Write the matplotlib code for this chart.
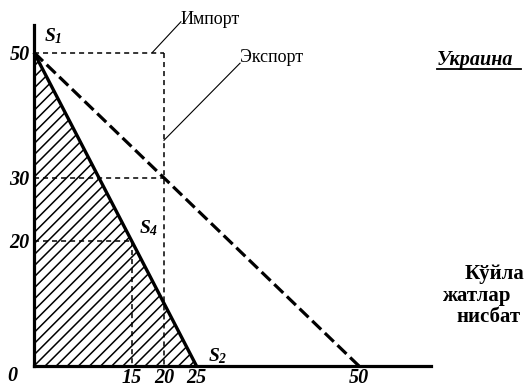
import matplotlib
matplotlib.use("Agg")
import matplotlib.pyplot as plt
from matplotlib.patches import Polygon

# ---- data ----
s1 = (0, 50)          # S1
s2 = (25, 0)          # S2
s4 = (15, 20)         # S4
export_end = (50, 0)  # export line end
import_pt = (20, 50)
export_pt = (20, 30)
yticks = [20, 30, 50]
ytick_labels = ["20", "30", "50"]
xticks = [15, 20, 25, 50]
xtick_labels = ["15", "20", "25", "50"]

plt.rcParams['mathtext.fontset'] = 'custom'
plt.rcParams['mathtext.it'] = 'Liberation Serif:bold:italic'
plt.rcParams['mathtext.rm'] = 'Liberation Serif:bold:italic'
plt.rcParams['hatch.linewidth'] = 1.1

fig = plt.figure(figsize=(5.26, 3.88), dpi=100)
ax = fig.add_axes([0, 0, 1, 1])
ax.set_xlim(-34 / 6.5, (526 - 34) / 6.5)
ax.set_ylim(-22 / 6.27, 366 / 6.27)

for side in ["top", "right"]:
    ax.spines[side].set_visible(False)
ax.spines["left"].set_position(("data", 0))
ax.spines["bottom"].set_position(("data", 0))
ax.spines["left"].set_bounds(0, 54.4)
ax.spines["bottom"].set_bounds(0, 61)
ax.spines["left"].set_linewidth(2.3)
ax.spines["bottom"].set_linewidth(2.3)
ax.patch.set_alpha(0)

tickfont = dict(family="Liberation Serif", weight="bold", style="italic", size=14.5)
ax.set_yticks(yticks)
ax.set_yticklabels(ytick_labels, fontdict=tickfont)
ax.set_xticks(xticks)
ax.set_xticklabels(xtick_labels, fontdict=tickfont)
ax.tick_params(axis="both", length=0)
ax.tick_params(axis="y", pad=3)
ax.tick_params(axis="x", pad=1.5)
ax.text(-3.4, -2.4, "0", ha="center", va="baseline", **tickfont)

# hatched triangle
tri = Polygon([(0, 0), s1, s2], closed=True, facecolor="none", edgecolor="black",
              hatch="///", linewidth=0)
ax.add_patch(tri)

# solid S1-S2
ax.plot([s1[0], s2[0]], [s1[1], s2[1]], color="black", lw=2.4, solid_capstyle="butt")
# export dashed
ax.plot([s1[0], export_end[0]], [s1[1], export_end[1]], color="black", lw=2.3,
        linestyle=(0, (3.9, 1.6)))

thin = dict(color="black", lw=1.1, linestyle=(0, (3.3, 2.6)))
ax.plot([0, import_pt[0]], [import_pt[1], import_pt[1]], **thin)
ax.plot([import_pt[0], import_pt[0]], [import_pt[1], 0], **thin)
ax.plot([0, export_pt[0]], [export_pt[1], export_pt[1]], **thin)
ax.plot([0, s4[0]], [s4[1], s4[1]], **thin)
ax.plot([s4[0], s4[0]], [s4[1], 0], **thin)

# annotation leader lines
ax.plot([18.2, 22.6], [50, 54.9], color="black", lw=0.8)
ax.plot([20, 31.7], [36, 48.3], color="black", lw=0.8)

txt = dict(family="Liberation Serif", size=13, color="black")
ax.text(22.6, 54.5, "Импорт", ha="left", va="baseline", **txt)
ax.text(31.7, 48.5, "Экспорт", ha="left", va="baseline", **txt)
ax.text(62.0, 48.0, "Украина", ha="left", va="baseline", family="Liberation Serif",
        weight="bold", style="italic", size=14.5)
ax.plot([62.0, 74.9], [47.3, 47.3], color="black", lw=1.3)

bold = dict(family="Liberation Serif", weight="bold", size=15, color="black")
ax.text(66.2, 13.8, "Кўйла", ha="left", va="baseline", **bold)
ax.text(62.8, 10.4, "жатлар", ha="left", va="baseline", **bold)
ax.text(65.0, 7.0, "нисбат", ha="left", va="baseline", **bold)

lab = dict(ha="left", va="baseline", size=14)
ax.text(1.6, 51.8, r"$S_1$", **lab)
ax.text(16.2, 21.2, r"$S_4$", **lab)
ax.text(26.8, 0.7, r"$S_2$", **lab)

fig.savefig("out.png", dpi=100)
